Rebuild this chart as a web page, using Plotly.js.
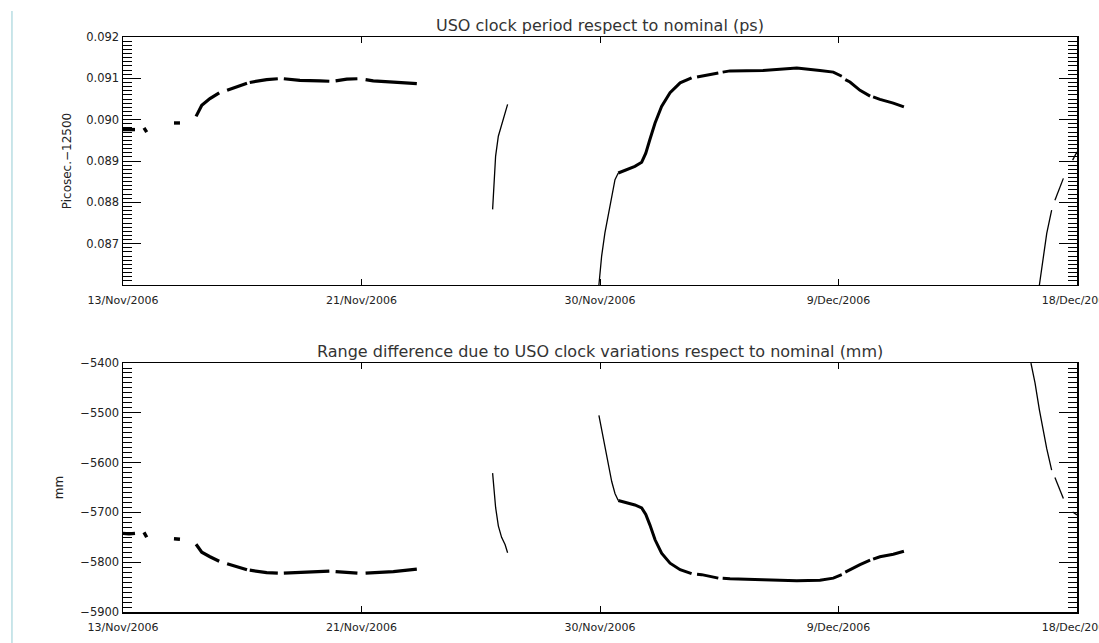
<!DOCTYPE html>
<html>
<head>
<meta charset="utf-8">
<script src="https://cdn.plot.ly/plotly-3.0.1.min.js"></script>
<style>
  html, body { margin: 0; padding: 0; background: #ffffff; }
  #chart { width: 1099px; height: 643px; }
</style>
</head>
<body>
<div id="chart"></div>
<script>
// ---- Data (x = days since 13/Nov/2006 00:00) ----
const tickDays   = [0, 8.75, 17.5, 26.25, 35];
const tickLabels = ['13/Nov/2006', '21/Nov/2006', '30/Nov/2006', '9/Dec/2006', '18/Dec/2006'];

// small clusters at the start
const clusterDays = [0, 0.22, 0.44, null, 0.77, 0.87, null, 1.87, 2.09];
const clusterPs   = [0.08976, 0.08975, 0.08976, null, 0.08980, 0.08970, null, 0.08992, 0.08992];
const clusterMm   = [-5742, -5743, -5742, null, -5740, -5750, null, -5753, -5754];

// first long arc
const arcDays = [2.68, 2.89, 3.19, 3.53, null, 3.82, 4.29, 4.55, null, 4.65, 5.0, 5.27, 5.68, null,
                 5.90, 6.49, 7.23, 7.57, null, 7.80, 8.21, 8.60, null, 8.90, 9.18, 9.92, 10.78];
const arcPs   = [0.09008, 0.09035, 0.09051, 0.09065, null, 0.09071, 0.09083, 0.09088, null,
                 0.09090, 0.09094, 0.09097, 0.09099, null, 0.09099, 0.09095, 0.09094, 0.09093, null,
                 0.09094, 0.09098, 0.09099, null, 0.09097, 0.09094, 0.09091, 0.09087];
const arcMm   = [-5764, -5780, -5789, -5798, null, -5803, -5811, -5815, null,
                 -5816, -5819, -5821, -5822, null, -5822, -5821, -5819, -5818, null,
                 -5819, -5821, -5822, null, -5822, -5821, -5819, -5814];

// short steep piece near 26/Nov
const steepBDays = [13.56, 13.61, 13.67, 13.77, 13.89, 14.02, 14.11];
const steepBPs   = [0.08783, 0.08847, 0.08912, 0.08960, 0.08988, 0.09020, 0.09037];
const steepBMm   = [-5621, -5650, -5690, -5727, -5750, -5765, -5781];

// steep start after 30/Nov
const steepCDays = [17.46, 17.56, 17.68, 17.81, 17.93, 18.05, 18.17];
const steepCPs   = [0.0860, 0.08670, 0.08726, 0.08774, 0.08819, 0.08855, 0.08871];
const steepCMm   = [-5505, -5535, -5570, -5607, -5638, -5662, -5676];

// plateau and long arc Dec
const arcCDays = [18.17, 18.48, 18.78, 19.03, 19.18, 19.33, 19.52, 19.76, 20.07, 20.44, 20.86, null,
                  21.06, 21.23, 21.84, null, 22.00, 22.27, 23.48, 24.72, 25.57, 26.06, 26.37, null,
                  26.50, 26.67, 27.04, 27.41, null, 27.52, 27.77, 28.26, 28.65];
const arcCPs   = [0.08871, 0.08879, 0.08887, 0.08897, 0.08919, 0.08952, 0.08992, 0.09032, 0.09065, 0.09089, 0.09101, null,
                  0.09103, 0.09105, 0.09113, null, 0.09115, 0.09118, 0.09119, 0.09125, 0.09119, 0.09115, 0.09105, null,
                  0.09097, 0.09091, 0.09071, 0.09057, null, 0.09055, 0.09049, 0.09040, 0.09031];
const arcCMm   = [-5676, -5680, -5685, -5691, -5704, -5725, -5755, -5782, -5802, -5815, -5823, null,
                  -5824, -5825, -5832, null, -5832, -5833, -5835, -5837, -5836, -5832, -5825, null,
                  -5820, -5815, -5805, -5796, null, -5794, -5789, -5784, -5778];

// last steep piece near 18/Dec
const steepDDays = [33.31, 33.46, 33.62, 33.71, 33.89, 34.07, null, 34.19, 34.38, 34.50, null, 34.84, 35.0];
const steepDPs   = [null, null, 0.0860, 0.08644, 0.08725, 0.08781, null, 0.08805, 0.08837, 0.08858, null, 0.08902, 0.08922];
const steepDMm   = [-5400, -5440, -5494, -5520, -5572, -5615, null, -5630, -5655, -5672, null, -5699, -5705];

// ---- helpers ----
const T0 = Date.UTC(2006, 10, 13);
function toDate(d) {
  if (d === null) return null;
  const t = new Date(T0 + d * 86400000);
  const p = n => String(n).padStart(2, '0');
  return t.getUTCFullYear() + '-' + p(t.getUTCMonth() + 1) + '-' + p(t.getUTCDate()) + ' ' +
         p(t.getUTCHours()) + ':' + p(t.getUTCMinutes()) + ':' + p(t.getUTCSeconds());
}

const segments = [
  {days: clusterDays, ps: clusterPs, mm: clusterMm, w: 3.4},
  {days: arcDays,     ps: arcPs,     mm: arcMm,     w: 3.2},
  {days: steepBDays,  ps: steepBPs,  mm: steepBMm,  w: 1.3},
  {days: steepCDays,  ps: steepCPs,  mm: steepCMm,  w: 1.3},
  {days: arcCDays,    ps: arcCPs,    mm: arcCMm,    w: 3.0},
  {days: steepDDays,  ps: steepDPs,  mm: steepDMm,  w: 1.3}
];

const traces = [];
segments.forEach(s => {
  const xs = s.days.map(toDate);
  traces.push({x: xs, y: s.ps, xaxis: 'x', yaxis: 'y', type: 'scatter', mode: 'lines',
               line: {color: '#000', width: s.w}, connectgaps: false, showlegend: false, hoverinfo: 'skip'});
  traces.push({x: xs, y: s.mm, xaxis: 'x2', yaxis: 'y2', type: 'scatter', mode: 'lines',
               line: {color: '#000', width: s.w}, connectgaps: false, showlegend: false, hoverinfo: 'skip'});
});

const tickVals = tickDays.map(toDate);
const fontYTick = {family: 'DejaVu Sans, sans-serif', size: 11.5, color: '#222'};
const fontXTick = {family: 'DejaVu Sans, sans-serif', size: 11, color: '#222'};
const fontTitle = {family: 'DejaVu Sans, sans-serif', size: 16, color: '#333'};

function xAxis(anchor) {
  return {
    type: 'date', anchor: anchor,
    range: [toDate(0), toDate(35)],
    tickmode: 'array', tickvals: tickVals, ticktext: tickLabels,
    ticks: 'inside', ticklen: 6, tickwidth: 1, tickcolor: '#000',
    ticklabeloverflow: 'allow', ticklabelstandoff: 4,
    showline: true, linecolor: '#000', linewidth: 1.5, mirror: 'ticks',
    showgrid: false, zeroline: false, automargin: false,
    tickfont: fontXTick
  };
}

const layout = {
  width: 1099, height: 643, autosize: false,
  margin: {l: 123, r: 22, t: 37, b: 31},
  paper_bgcolor: '#fff', plot_bgcolor: '#fff',
  showlegend: false,
  xaxis: xAxis('y'),
  xaxis2: xAxis('y2'),
  yaxis: {
    domain: [0.5687, 1], anchor: 'x',
    range: [0.086, 0.092],
    tickmode: 'array', tickvals: [0.087, 0.088, 0.089, 0.090, 0.091, 0.092],
    tickformat: '.3f',
    ticks: 'inside', ticklen: 18, tickwidth: 1, tickcolor: '#000',
    ticklabeloverflow: 'allow',
    minor: {tick0: 0.086, dtick: 0.0001, ticks: 'inside', ticklen: 9, tickwidth: 1, tickcolor: '#000', showgrid: false},
    showline: true, linecolor: '#000', linewidth: 1.5, mirror: 'ticks',
    showgrid: false, zeroline: false, automargin: false,
    tickfont: fontYTick,
    title: {text: 'Picosec.\u221212500', font: {family: 'DejaVu Sans, sans-serif', size: 12, color: '#222'}, standoff: 12}
  },
  yaxis2: {
    domain: [0, 0.4330], anchor: 'x2',
    range: [-5900, -5400],
    tickmode: 'linear', tick0: -5900, dtick: 100,
    ticks: 'inside', ticklen: 18, tickwidth: 1, tickcolor: '#000',
    ticklabeloverflow: 'allow',
    minor: {tick0: -5900, dtick: 10, ticks: 'inside', ticklen: 9, tickwidth: 1, tickcolor: '#000', showgrid: false},
    showline: true, linecolor: '#000', linewidth: 1.5, mirror: 'ticks',
    showgrid: false, zeroline: false, automargin: false,
    tickfont: fontYTick,
    title: {text: 'mm', font: {family: 'DejaVu Sans, sans-serif', size: 12, color: '#222'}, standoff: 14}
  },
  annotations: [
    {text: 'USO clock period respect to nominal (ps)', xref: 'paper', yref: 'paper',
     x: 0.5, y: 1, xanchor: 'center', yanchor: 'bottom', yshift: 0, showarrow: false, font: fontTitle},
    {text: 'Range difference due to USO clock variations respect to nominal (mm)', xref: 'paper', yref: 'paper',
     x: 0.5, y: 0.4330, xanchor: 'center', yanchor: 'bottom', yshift: 0, showarrow: false, font: fontTitle}
  ],
  shapes: [
    {type: 'line', xref: 'paper', yref: 'paper', x0: -0.1164, x1: -0.1164, y0: 1.0452, y1: -0.06,
     line: {color: '#b8dde3', width: 1.5}}
  ]
};

Plotly.newPlot('chart', traces, layout, {displayModeBar: false, staticPlot: true});
</script>
</body>
</html>
